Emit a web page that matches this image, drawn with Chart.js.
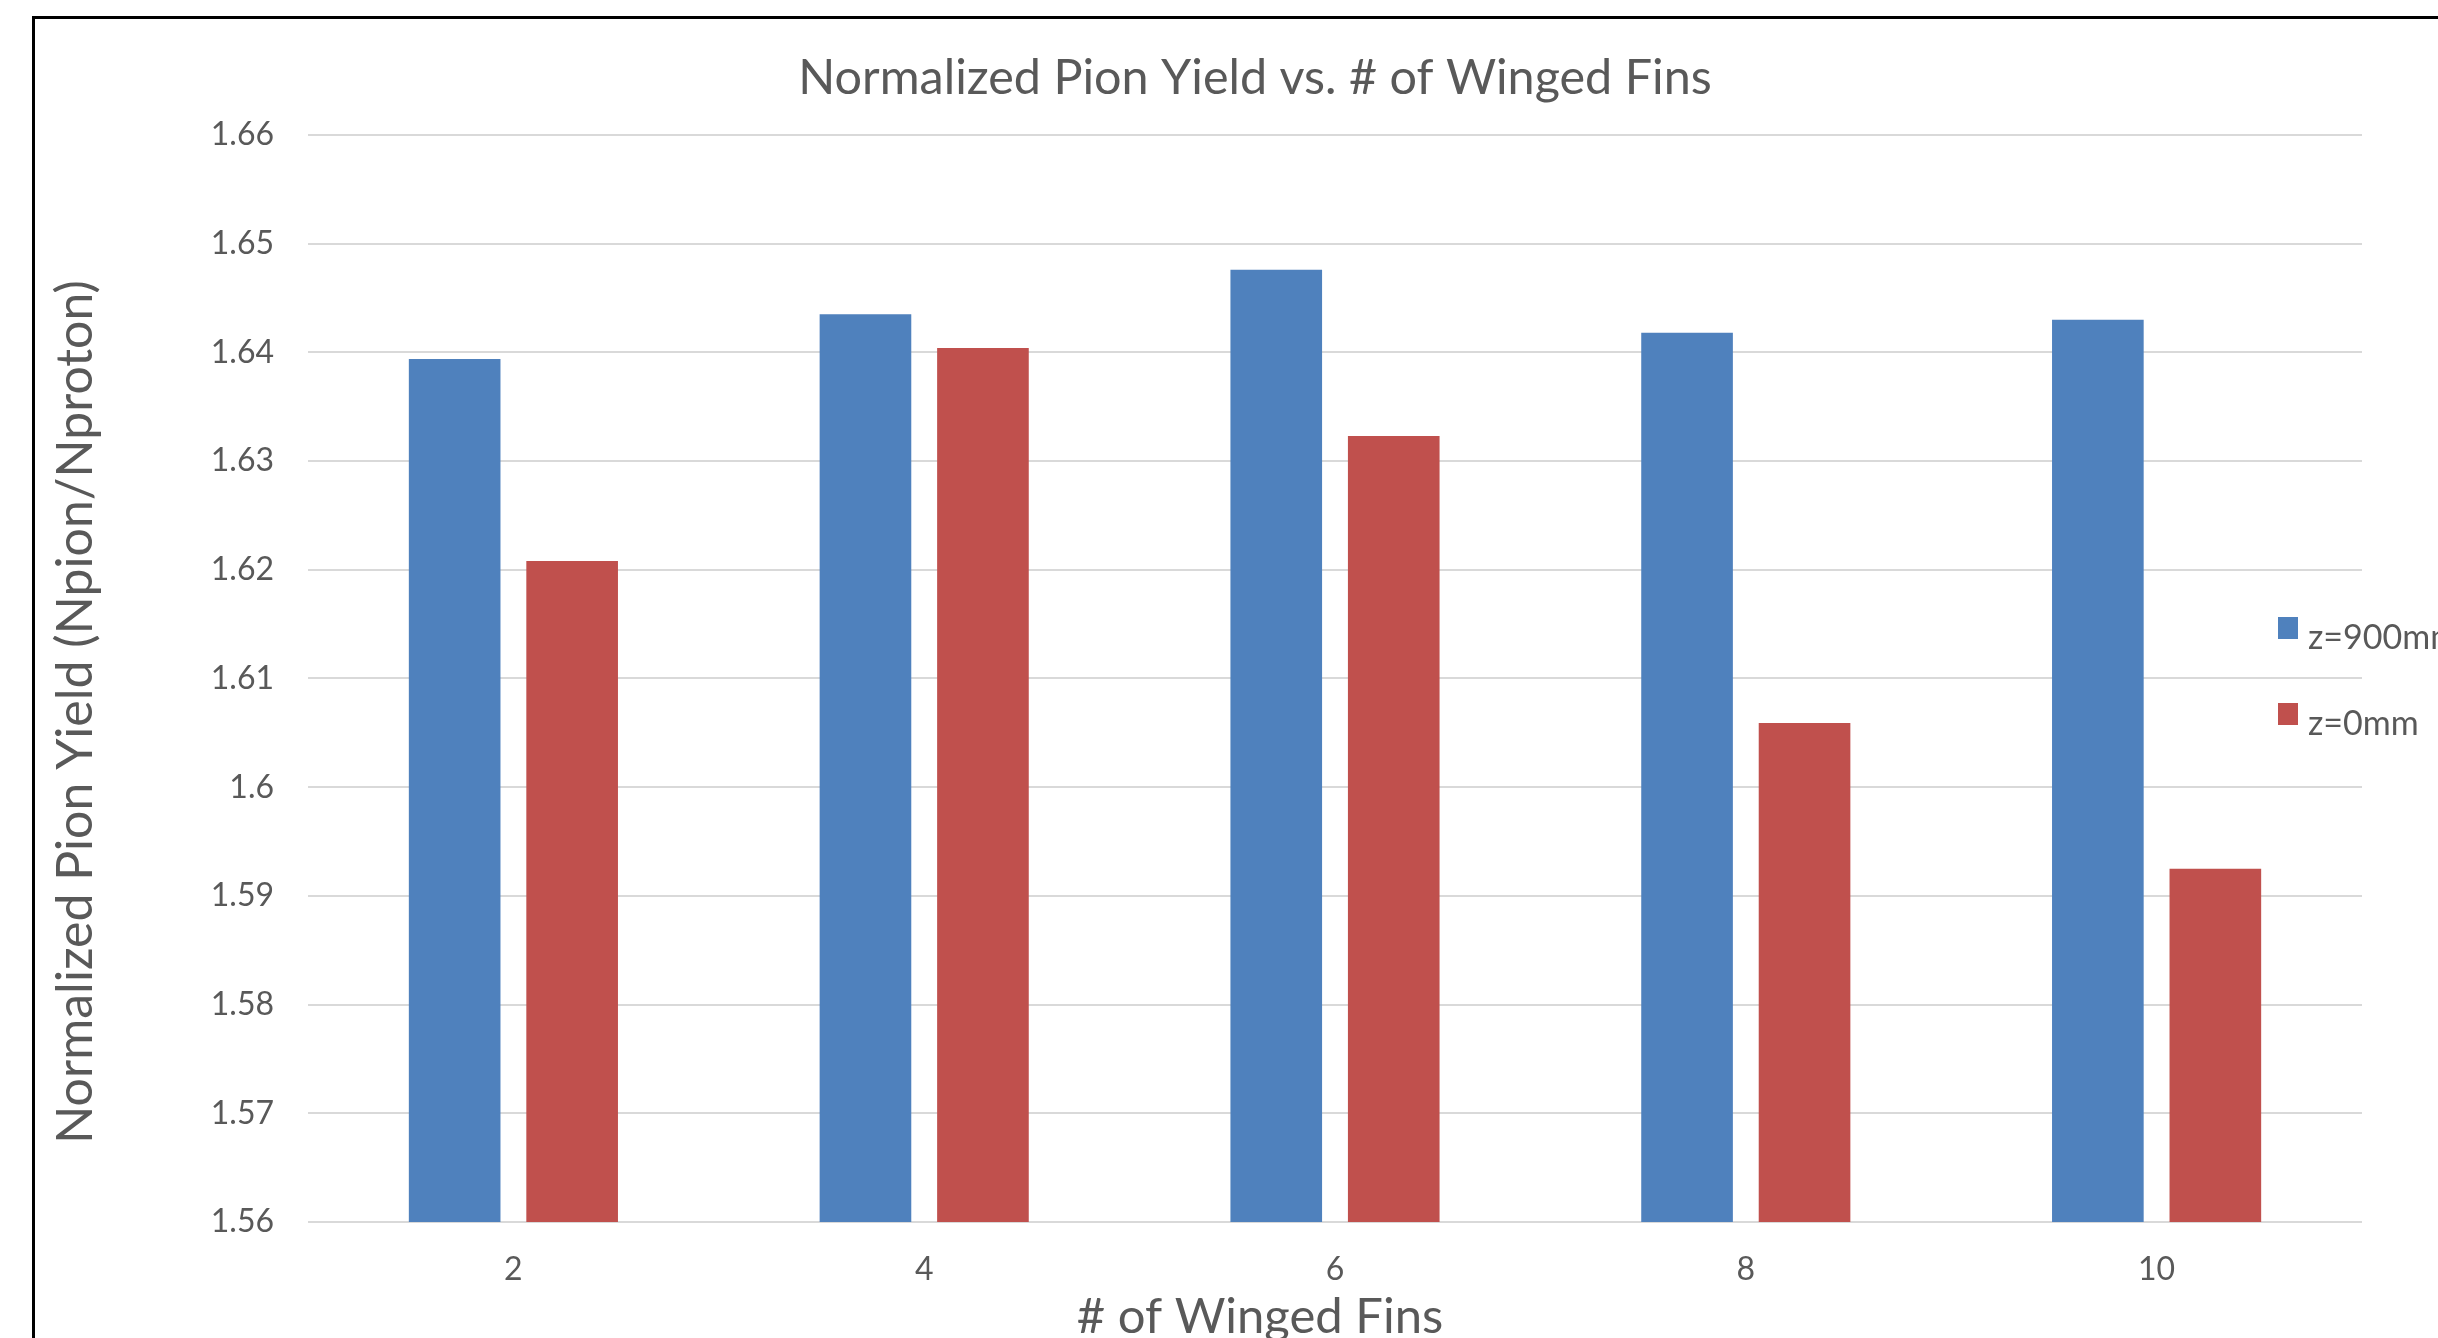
<!DOCTYPE html>
<html>
<head>
<meta charset="utf-8">
<title>Normalized Pion Yield vs. # of Winged Fins</title>
<script src="https://cdn.jsdelivr.net/npm/chart.js@4.4.0/dist/chart.umd.min.js"></script>
<style>
  html, body { margin: 0; padding: 0; background: #ffffff; }
  #wrap { position: relative; width: 2438px; height: 1338px; overflow: hidden; }
  canvas { display: block; }
</style>
</head>
<body>
<div id="wrap"><canvas id="chart" width="2438" height="1338"></canvas></div>
<script>
// Number of winged fins on the target (x categories)
const finCounts = ['2', '4', '6', '8', '10'];

// Normalized pion yield (Npion/Nproton) at each detector plane
const yieldZ900 = [1.6394, 1.6435, 1.6476, 1.6418, 1.6430];
const yieldZ0   = [1.6208, 1.6404, 1.6323, 1.6059, 1.5925];

const seriesNames = ['z=900mm', 'z=0mm'];

// Value-axis tick labels, bottom to top
const yTickLabels = ['1.56', '1.57', '1.58', '1.59', '1.6', '1.61', '1.62', '1.63', '1.64', '1.65', '1.66'];

const TEXT = '#595959';
const FONT = 'Lato, "Open Sans", sans-serif';

// Outer frame of the chart object
const framePlugin = {
  id: 'frame',
  beforeDraw(chart) {
    const ctx = chart.ctx;
    ctx.save();
    ctx.fillStyle = '#ffffff';
    ctx.fillRect(0, 0, chart.width, chart.height);
    ctx.fillStyle = '#000000';
    ctx.fillRect(32, 16, chart.width, 3);
    ctx.fillRect(32, 16, 3, chart.height);
    ctx.restore();
  }
};

// Axis titles placed independently of the plot box
const axisTitlePlugin = {
  id: 'axisTitles',
  afterDraw(chart, args, opts) {
    const ctx = chart.ctx;
    ctx.save();
    ctx.fillStyle = TEXT;
    ctx.font = opts.x.size + 'px ' + FONT;
    ctx.textAlign = 'center';
    ctx.textBaseline = 'alphabetic';
    ctx.fillText(opts.x.text, opts.x.cx, opts.x.baseline);
    ctx.font = opts.y.size + 'px ' + FONT;
    ctx.translate(opts.y.cx, opts.y.cy);
    ctx.rotate(-Math.PI / 2);
    ctx.textBaseline = 'middle';
    ctx.fillText(opts.y.text, 0, 0);
    ctx.restore();
  }
};

// Legend drawn over the right edge of the plot
const sideLegendPlugin = {
  id: 'sideLegend',
  afterDraw(chart, args, opts) {
    const ctx = chart.ctx;
    ctx.save();
    ctx.font = opts.size + 'px ' + FONT;
    ctx.textBaseline = 'alphabetic';
    ctx.textAlign = 'left';
    chart.data.datasets.forEach((ds, i) => {
      const top = opts.top + i * opts.step;
      ctx.fillStyle = ds.backgroundColor;
      ctx.fillRect(opts.left, top, opts.box, opts.box + 2);
      ctx.fillStyle = TEXT;
      ctx.fillText(ds.label, opts.left + opts.box + 10, top + opts.textDrop);
    });
    ctx.restore();
  }
};

new Chart(document.getElementById('chart'), {
  type: 'bar',
  data: {
    labels: finCounts,
    datasets: [
      { label: seriesNames[0], data: yieldZ900, backgroundColor: '#4F81BD', borderWidth: 0 },
      { label: seriesNames[1], data: yieldZ0,   backgroundColor: '#C0504D', borderWidth: 0 }
    ]
  },
  options: {
    responsive: false,
    animation: false,
    devicePixelRatio: 1,
    layout: { padding: { left: 148, right: 76, top: 0, bottom: 0 } },
    datasets: {
      bar: { categoryPercentage: 0.572, barPercentage: 0.78 }
    },
    plugins: {
      legend: { display: false },
      tooltip: { enabled: false },
      title: {
        display: true,
        text: 'Normalized Pion Yield vs. # of Winged Fins',
        color: TEXT,
        font: { family: FONT, size: 48.5, weight: 'normal', lineHeight: 1.2 },
        padding: { top: 49, bottom: 27.8 }
      },
      axisTitles: {
        x: { text: '# of Winged Fins', size: 49, cx: 1260, baseline: 1333 },
        y: { text: 'Normalized Pion Yield (Npion/Nproton)', size: 50, cx: 76, cy: 712 }
      },
      sideLegend: { size: 34, left: 2278, top: 617, step: 86, box: 20, textDrop: 32 }
    },
    scales: {
      x: {
        grid: { display: false, drawTicks: false },
        border: { display: false },
        ticks: { color: TEXT, font: { family: FONT, size: 32 }, padding: 28 },
        afterFit(scale) { scale.height = 116; }
      },
      y: {
        min: 1.56,
        max: 1.66,
        grid: { color: '#D9D9D9', lineWidth: 2, drawTicks: false },
        border: { display: false },
        ticks: {
          stepSize: 0.01,
          color: TEXT,
          font: { family: FONT, size: 32 },
          padding: 34,
          callback: (value, index) => yTickLabels[index]
        },
        afterFit(scale) { scale.width = 160; }
      }
    }
  },
  plugins: [framePlugin, axisTitlePlugin, sideLegendPlugin]
});
</script>
</body>
</html>
